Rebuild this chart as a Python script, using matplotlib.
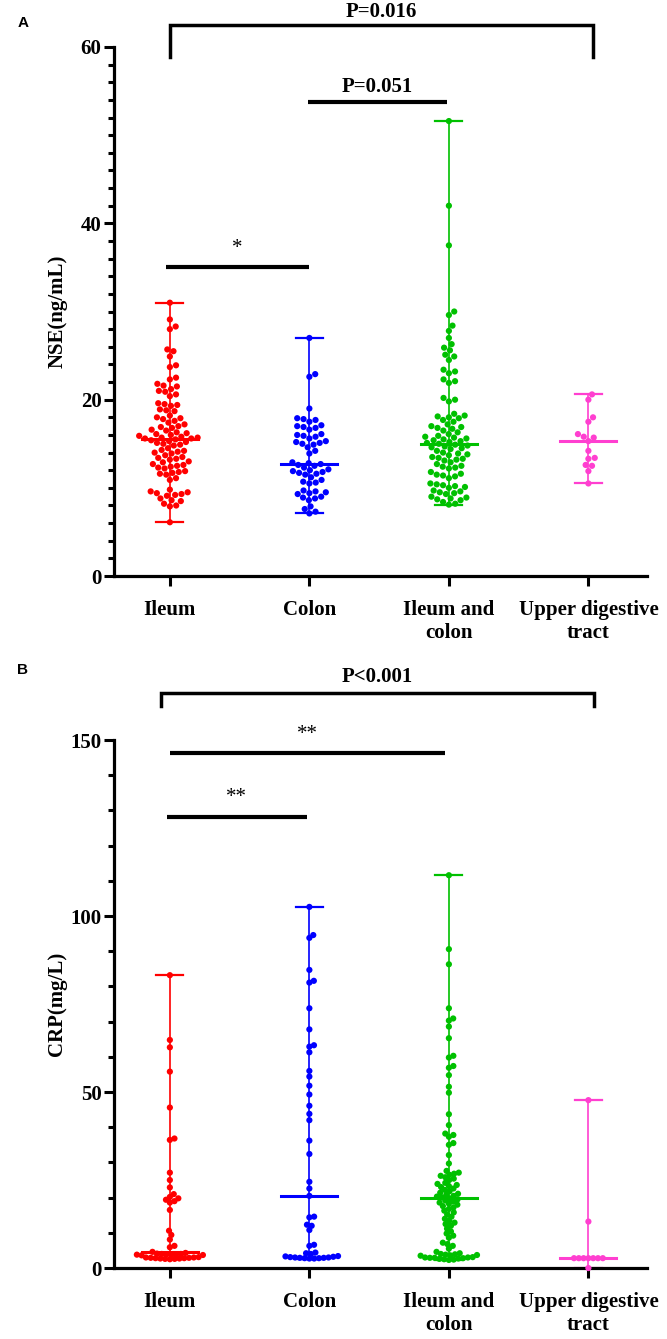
import numpy as np
import matplotlib
matplotlib.use("Agg")
import matplotlib.pyplot as plt
from matplotlib.ticker import MultipleLocator

plt.rcParams['font.family'] = ['Liberation Serif', 'DejaVu Serif']

groups = ["Ileum", "Colon", "Ileum and\ncolon", "Upper digestive\ntract"]
colors = ["#FF0000", "#0000FF", "#00C000", "#FF3FD0"]

# NSE (ng/mL), panel A
nse_ileum = [31.0, 29.1, 28.3, 28.0, 25.7, 25.5, 24.9, 23.9, 23.7, 22.5, 22.3, 21.8,
             21.6, 21.5, 21.2, 21.0, 20.9, 20.6, 20.4, 19.6, 19.5, 19.4, 19.3, 18.9,
             18.8, 18.7, 18.2, 18.0, 17.9, 17.8, 17.6, 17.4, 17.2, 17.0, 16.9, 16.8,
             16.6, 16.5, 16.3, 16.2, 16.1, 16.0, 15.9, 15.8, 15.7, 15.7, 15.6, 15.6,
             15.5, 15.4, 15.3, 15.2, 15.1, 15.0, 14.9, 14.8, 14.5, 14.3, 14.2, 14.1,
             14.0, 13.9, 13.7, 13.5, 13.4, 13.3, 13.2, 13.0, 12.9, 12.7, 12.6, 12.5,
             12.4, 12.3, 12.2, 11.9, 11.8, 11.7, 11.6, 11.5, 11.1, 10.9, 9.8, 9.6,
             9.5, 9.4, 9.3, 9.2, 9.1, 8.8, 8.6, 8.5, 8.2, 8.0, 7.9, 6.1]
nse_colon = [27.0, 22.9, 22.6, 19.0, 17.9, 17.8, 17.7, 17.5, 17.1, 17.0, 16.9, 16.8,
             16.6, 16.1, 16.0, 15.9, 15.8, 15.6, 15.3, 15.2, 15.1, 15.0, 14.9, 14.6,
             14.2, 13.9, 12.9, 12.8, 12.7, 12.6, 12.5, 12.3, 12.1, 12.0, 11.9, 11.8,
             11.7, 11.6, 11.5, 11.2, 10.9, 10.7, 10.6, 10.5, 9.7, 9.6, 9.5, 9.4,
             9.3, 9.0, 8.9, 8.8, 8.6, 7.9, 7.6, 7.3, 7.1]
nse_ileum_colon = [51.6, 42.0, 37.5, 30.0, 29.6, 28.4, 27.8, 27.0, 26.3, 25.9, 25.6, 25.1,
                   24.9, 24.5, 23.4, 23.2, 23.0, 22.3, 22.1, 21.9, 20.2, 20.0, 19.8, 18.4,
                   18.2, 18.1, 18.0, 17.9, 17.7, 17.5, 17.2, 17.0, 16.9, 16.8, 16.7, 16.5,
                   16.3, 16.1, 15.9, 15.8, 15.7, 15.6, 15.5, 15.4, 15.3, 15.2, 15.1, 15.0,
                   14.9, 14.8, 14.7, 14.6, 14.5, 14.4, 14.2, 14.0, 13.9, 13.8, 13.7, 13.5,
                   13.4, 13.3, 13.2, 13.1, 12.9, 12.7, 12.5, 12.4, 12.3, 12.2, 11.8, 11.6,
                   11.5, 11.4, 11.3, 11.1, 10.5, 10.4, 10.3, 10.2, 10.1, 10.0, 9.7, 9.6,
                   9.5, 9.4, 9.3, 9.0, 8.9, 8.8, 8.7, 8.6, 8.4, 8.2, 8.1]
nse_upper = [20.6, 20.0, 18.0, 17.5, 16.1, 15.8, 15.7, 15.3, 14.2, 13.4, 13.3, 12.6,
             12.5, 11.9, 10.5]

# CRP (mg/L), panel B
crp_ileum = [83.2, 64.8, 62.7, 55.8, 45.6, 36.8, 36.4, 27.1, 25.0, 22.9, 21.0, 20.2,
             19.8, 19.4, 19.0, 18.6, 16.5, 10.6, 9.4, 8.1, 6.3, 5.9,
             4.6, 4.3, 4.1, 4.0, 4.0, 3.9, 3.9, 3.8, 3.8, 3.7, 3.6,
             3.1, 3.0, 3.0, 2.9, 2.9, 2.8, 2.8, 2.7, 2.7, 2.6, 2.6, 2.5]
crp_colon = [102.6, 94.6, 93.8, 84.7, 81.6, 81.1, 73.8, 67.8, 63.3, 62.9, 61.3, 56.0,
             54.4, 51.8, 49.3, 46.1, 43.8, 42.0, 36.2, 32.4, 24.5, 22.6, 20.5,
             14.6, 14.4, 12.3, 12.0, 10.8, 6.6, 6.3, 4.4, 4.2, 4.0,
             3.4, 3.3, 3.2, 3.1, 3.0, 3.0, 2.9, 2.9, 2.8, 2.8, 2.7, 2.7]
crp_ileum_colon = [111.6, 90.6, 86.3, 73.8, 70.9, 70.3, 68.6, 65.3, 60.3, 59.8, 57.4, 56.9,
                   54.8, 51.5, 49.8, 43.7, 40.6, 38.2, 37.8, 37.3, 35.5, 35.0, 32.1, 29.7,
                   27.6, 27.1, 26.8, 26.5, 26.2, 25.8, 25.4, 25.0, 24.2, 23.9, 23.6, 23.3,
                   23.0, 22.6, 22.2, 21.8, 21.4, 21.1, 20.8, 20.5, 20.3, 20.1, 19.8,
                   19.5, 19.2, 18.9, 18.6, 18.3, 18.0, 17.6, 17.2, 16.8, 16.3, 15.8, 15.2,
                   14.6, 14.0, 13.4, 12.9, 12.5, 12.0, 11.2, 10.4, 9.8, 9.2, 8.6, 7.2,
                   6.8, 6.3, 5.5, 4.6,
                   4.2, 4.0, 3.9, 3.8, 3.7, 3.6, 3.5, 3.1, 3.0, 3.0, 2.9, 2.9,
                   2.8, 2.7, 2.6, 2.5, 2.4, 2.3]
crp_upper = [47.7, 13.2, 2.8, 2.8, 2.8, 2.8, 2.8, 2.8, 2.8, 0.0]

nse_data = [nse_ileum, nse_colon, nse_ileum_colon, nse_upper]
crp_data = [crp_ileum, crp_colon, crp_ileum_colon, crp_upper]


def swarm_x(ax, xc, vals, gap):
    # simple beeswarm in pixel space
    vals = np.asarray(vals, float)
    pts = ax.transData.transform(np.column_stack([np.full(len(vals), xc), vals]))
    ys = pts[:, 1]
    x0 = pts[0, 0]
    xs = np.zeros(len(vals))
    px_list, py_list = [], []
    for i in np.argsort(ys):
        y = ys[i]
        near = [(px, py) for px, py in zip(px_list, py_list) if abs(py - y) < gap]
        cands = [0.0]
        for px, py in near:
            dx = np.sqrt(gap ** 2 - (py - y) ** 2)
            cands += [px + dx, px - dx]
        cands.sort(key=abs)
        for c in cands:
            if all((c - px) ** 2 + (y - py) ** 2 >= gap ** 2 - 1e-6 for px, py in near):
                break
        xs[i] = c
        px_list.append(c)
        py_list.append(y)
    back = ax.transData.inverted().transform(np.column_stack([x0 + xs, ys]))
    return back[:, 0]


def style_axes(ax, ymax, major, minor, ylabel):
    ax.set_xlim(-0.4, 3.42)
    ax.set_ylim(0, ymax)
    for s in ["top", "right"]:
        ax.spines[s].set_visible(False)
    for s in ["left", "bottom"]:
        ax.spines[s].set_linewidth(2.3)
    ax.yaxis.set_major_locator(MultipleLocator(major))
    ax.yaxis.set_minor_locator(MultipleLocator(minor))
    ax.tick_params(axis="y", which="major", length=7, width=2.2, pad=2, labelsize=15)
    ax.tick_params(axis="y", which="minor", length=4.3, width=2.2)
    ax.tick_params(axis="x", which="major", length=7, width=2.2, pad=10, labelsize=15)
    ax.set_xticks(range(4))
    ax.set_xticklabels(groups, fontweight="bold")
    for lab in ax.get_yticklabels():
        lab.set_fontweight("bold")
    ax.set_ylabel(ylabel, fontsize=15, fontweight="bold")
    ax.yaxis.set_label_coords(-0.088, 0.5)


def draw_groups(ax, data, gap):
    for i, vals in enumerate(data):
        c = colors[i]
        lo, hi, med = min(vals), max(vals), np.median(vals)
        ax.plot([i, i], [lo, hi], color=c, lw=1.2, zorder=2)
        ax.plot([i - 0.097, i + 0.097], [lo, lo], color=c, lw=1.6, zorder=2)
        ax.plot([i - 0.097, i + 0.097], [hi, hi], color=c, lw=1.6, zorder=2)
        xs = swarm_x(ax, i, vals, gap)
        ax.scatter(xs, vals, s=20, color=c, edgecolors="none", zorder=3, clip_on=False)
        ax.plot([i - 0.2, i + 0.2], [med, med], color=c, lw=2.2, zorder=4)


def sig_line(ax, x1, x2, y, text, ty, fs=15, weight="bold"):
    ax.plot([x1, x2], [y, y], color="black", lw=3, clip_on=False, solid_capstyle="butt")
    ax.text((x1 + x2) / 2, ty, text, ha="center", va="center", fontsize=fs,
            fontweight=weight)


def bracket(ax, x1, x2, y_top, y_bot, text, ty):
    ax.plot([x1, x1, x2, x2], [y_bot, y_top, y_top, y_bot], color="black", lw=2.5,
            clip_on=False, solid_joinstyle="miter")
    ax.text((x1 + x2) / 2, ty, text, ha="center", va="center", fontsize=15,
            fontweight="bold")


fig = plt.figure(figsize=(6.67, 13.39), dpi=100)
ax_a = fig.add_axes([0.171, 0.5698, 0.799, 0.3951])
ax_b = fig.add_axes([0.171, 0.0530, 0.799, 0.3943])

style_axes(ax_a, 60, 20, 2, "NSE(ng/mL)")
style_axes(ax_b, 150, 50, 10, "CRP(mg/L)")

draw_groups(ax_a, nse_data, 6.4)
draw_groups(ax_b, crp_data, 4.8)

# panel A annotations
bracket(ax_a, 0.0, 3.03, 62.5, 58.9, "P=0.016", 64.0)
sig_line(ax_a, 0.99, 1.99, 53.75, "P=0.051", 55.5)
sig_line(ax_a, -0.03, 1.0, 35.1, "*", 37.1, fs=15, weight="normal")

# panel B annotations
bracket(ax_b, -0.06, 3.04, 163.4, 159.7, "P<0.001", 168.0)
sig_line(ax_b, 0.0, 1.97, 146.3, "**", 151.6, fs=15, weight="normal")
sig_line(ax_b, -0.02, 0.98, 128.1, "**", 133.6, fs=15, weight="normal")

fig.text(0.034, 1 - 23 / 1339, "A", ha="center", va="center", fontsize=11,
         fontweight="bold", family=["Liberation Sans", "DejaVu Sans"])
fig.text(0.034, 1 - 670 / 1339, "B", ha="center", va="center", fontsize=11,
         fontweight="bold", family=["Liberation Sans", "DejaVu Sans"])

fig.savefig("out.png", dpi=100)
